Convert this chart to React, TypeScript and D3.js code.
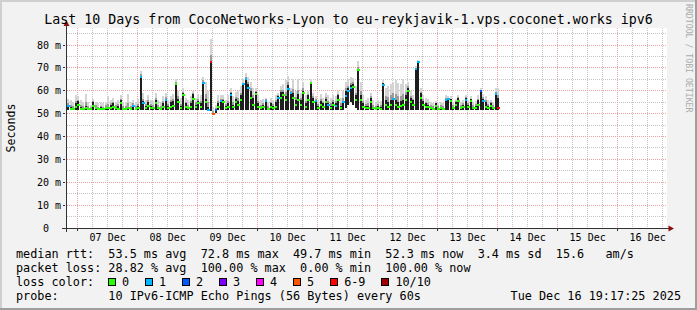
import React from 'react';
import * as d3 from 'd3';

const TITLE = 'Last 10 Days from CocoNetworks-Lyon to eu-reykjavik-1.vps.coconet.works ipv6';
const Y_LABEL = 'Seconds';
const WATERMARK = 'RRDTOOL / TOBI OETIKER';

const Y_TICKS = [0, 10, 20, 30, 40, 50, 60, 70, 80];
const Y_TICK_LABELS = ['0  ', '10 m', '20 m', '30 m', '40 m', '50 m', '60 m', '70 m', '80 m'];
const Y_MAX = 87.45;

const X_START = new Date(2025, 11, 6, 19, 44);
const X_END = new Date(2025, 11, 16, 19, 44);
const DAY_LABELS = ['07 Dec', '08 Dec', '09 Dec', '10 Dec', '11 Dec', '12 Dec', '13 Dec', '14 Dec', '15 Dec', '16 Dec'];
const DAY_LABEL_DATES = [7, 8, 9, 10, 11, 12, 13, 14, 15, 16].map((d) => new Date(2025, 11, d, 12, 0));

const DATA_START = new Date(2025, 11, 6, 19, 44);
const STEP_MS = 3600 * 1000;

// median rtt (ms) per hour
const median = [
  53.4, 52.2, 52.2, 53, 54, 52.2, 52.2, 52.5, 52, 52, 53.5, 52.3, 52, 52, 52, 52.5, 52.3, 52.5, 53, 52.3,
  52.2, 54.5, 52.2, 52, 52.3, 52, 53.5, 52, 52.3, 66, 54.5, 52.3, 53.5, 52.5, 52.3, 54.5, 52.3, 52, 53, 56,
  52.5, 53, 53.5, 63, 55, 52.5, 58, 53, 52.3, 53, 56.5, 53, 54.5, 53, 63.5, 55, 51.6, 72.8, 49.7, 51.5,
  53, 55.5, 55, 52.5, 53, 58, 53, 55, 54, 56, 62.8, 65, 61, 57, 54, 58.5, 53, 52.3, 53, 55.5,
  52, 53, 52.5, 53, 57, 57, 58, 56, 60.6, 59, 57, 54, 56, 54, 59, 53, 56, 63.5, 55, 55.5,
  52.3, 54, 53, 55, 54, 52.5, 54, 53.4, 56, 52.5, 55, 57.8, 60, 61.3, 61.8, 56, 69, 56, 53, 52.3,
  52.5, 55, 52.3, 52, 52.5, 52.2, 62.5, 54, 53, 54, 56.5, 54, 53, 53.5, 54, 56, 60, 55, 54, 69.4,
  72.5, 57, 54, 53, 53, 52.3, 52.2, 53.5, 52.2, 52.3, 52.2, 56, 56.5, 55.5, 52.3, 54, 55.5, 52.3, 53, 56,
  53, 55.5, 52.3, 52.5, 54, 60, 55.5, 53, 52.3, 53.5, 52.3, 58.6, 52.3,
];
// upper edge of the dense (dark) smoke
const darkTop = [
  54, 52.8, 52.6, 54.5, 55.5, 52.8, 52.6, 53.5, 52.6, 52.5, 55, 53, 52.5, 52.8, 52.5, 53, 53, 54, 54.5, 53,
  53.2, 56, 52.6, 52.6, 53, 52.6, 54, 52.6, 53.5, 66.5, 55.5, 53.2, 55, 53.2, 52.8, 56, 52.8, 52.5, 54.5, 56.5,
  53.2, 55, 55.5, 63.5, 56.5, 53.2, 59, 54.5, 53, 54.5, 58.5, 54, 55.5, 54.5, 64, 56.5, 53, 72.8, 50.5, 52,
  54.5, 56, 56, 53.2, 54.5, 59, 54, 56.5, 55.5, 58, 63, 65.5, 63, 60, 57, 59.5, 54.5, 53, 54, 56,
  52.6, 54.5, 53.5, 55, 57.5, 59.5, 59.5, 57.5, 62.5, 59.5, 59, 56, 58.5, 56, 60, 54.5, 58, 63.5, 57, 56,
  53.5, 55.5, 54.5, 56.5, 54.5, 53.5, 55, 54.5, 58, 53.5, 55.5, 60, 61, 62.5, 63, 58, 69.2, 58, 54.5, 53.2,
  53.5, 57, 53, 52.6, 53.5, 52.8, 63.2, 56, 55, 56, 57, 56, 55, 55.5, 56, 58, 61, 57, 56, 69.5,
  73, 59, 55.5, 54.5, 54, 53, 52.6, 54.5, 52.6, 53, 52.6, 56.5, 56.5, 56.2, 53, 55, 57, 53, 54, 57,
  54, 56.2, 53, 53.5, 56, 60.1, 56.5, 55, 53.5, 54.5, 53, 58.6, 57,
];
// highest ping of the hour
const smokeTop = [
  56.5, 56, 55, 58, 57.5, 56, 55, 58.5, 55, 54, 56.5, 55, 54.5, 55, 54.5, 55, 57.5, 56, 57, 55,
  56, 58, 55, 55, 58.5, 55, 56, 55, 56.5, 68.6, 59, 56, 58, 56, 55.5, 59, 56, 55, 57.5, 59,
  56, 57.5, 58.5, 65, 60, 57, 61, 57, 56, 57.5, 60, 57, 58.5, 58, 66, 64, 60, 82.5, 53, 54,
  58, 58, 58, 56, 58, 61, 57.5, 59.5, 60, 62, 65, 67.7, 66, 64, 61, 61, 58, 56, 56.5, 57,
  55, 57, 56, 58, 59, 62, 63, 64.5, 66.5, 61, 65, 60, 65, 59, 64, 58, 60, 65, 59, 57.5,
  56, 58.5, 57, 59, 58, 57, 58, 57.5, 60, 57, 60, 64, 65, 66, 65.5, 62, 73, 64, 58, 56,
  57, 59, 56, 55, 56, 55.5, 64.5, 61, 62, 63, 64, 64.5, 63.5, 63, 65, 63, 64, 60, 58, 71,
  73.5, 61, 58, 57, 56.5, 55, 54.5, 55.5, 54.5, 55, 54.5, 58, 57.5, 57.5, 55, 56.5, 58, 55, 56, 58,
  56, 57.5, 55, 55.5, 58, 61, 58.5, 57.5, 56, 56, 55, 61.4, 61,
];
// lowest ping of the hour
const smokeLow = [
  51.8, 51.8, 51.8, 51.8, 51.8, 51.8, 51.8, 51.8, 51.8, 51.8, 51.8, 51.8, 51.8, 51.8, 51.8, 51.8, 51.8, 51.8, 51.8, 51.8,
  51.8, 51.8, 51.8, 51.8, 51.8, 51.8, 51.8, 51.8, 51.8, 51.8, 51.8, 51.8, 51.8, 51.8, 51.8, 51.8, 51.8, 51.8, 51.8, 51.8,
  51.8, 51.8, 51.8, 51.8, 51.8, 51.8, 51.8, 51.8, 51.8, 51.8, 51.8, 51.8, 51.8, 51.8, 51.8, 51.8, 51.2, 51.2, 49.3, 50.5,
  51.8, 51.8, 51.8, 51.8, 51.8, 51.8, 51.8, 51.8, 51.8, 51.8, 51.8, 51.8, 51.8, 51.8, 51.8, 51.8, 51.8, 51.8, 51.8, 51.8,
  51.8, 51.8, 51.8, 51.8, 51.8, 51.8, 51.8, 51.8, 51.8, 51.8, 51.8, 51.8, 51.8, 51.8, 51.8, 51.8, 51.8, 51.8, 51.8, 51.8,
  51.8, 51.8, 51.8, 51.8, 51.8, 51.8, 51.8, 51.8, 51.8, 51.8, 51.8, 52.5, 54, 55, 54, 52.5, 51.8, 51.8, 51.8, 51.8,
  51.8, 51.8, 51.8, 51.8, 51.8, 51.8, 51.8, 51.8, 51.8, 51.8, 51.8, 51.8, 51.8, 51.8, 51.8, 51.8, 51.8, 51.8, 51.8, 51.8,
  51.8, 51.8, 51.8, 51.8, 51.8, 51.8, 51.8, 51.8, 51.8, 51.8, 51.8, 51.8, 51.8, 51.8, 51.8, 51.8, 51.8, 51.8, 51.8, 51.8,
  51.8, 51.8, 51.8, 51.8, 51.8, 51.8, 51.8, 51.8, 51.8, 51.8, 51.8, 51.8, 51.8,
];
// lost pings (of 10) per hour
const loss = [
  1, 0, 0, 0, 0, 0, 0, 0, 0, 0, 0, 0, 0, 0, 0, 0, 0, 0, 0, 0,
  0, 0, 0, 0, 0, 0, 1, 0, 0, 1, 1, 0, 0, 0, 0, 0, 0, 0, 0, 1,
  0, 0, 0, 0, 0, 0, 0, 0, 0, 0, 0, 0, 0, 0, 1, 0, 1, 7, 5, 2,
  0, 1, 0, 0, 0, 1, 0, 0, 0, 0, 1, 1, 1, 0, 0, 0, 0, 0, 0, 1,
  0, 0, 0, 0, 1, 0, 0, 0, 1, 1, 0, 0, 0, 0, 0, 0, 0, 0, 0, 1,
  0, 0, 0, 0, 1, 0, 0, 1, 0, 0, 1, 1, 1, 1, 0, 0, 0, 0, 0, 0,
  0, 0, 0, 0, 0, 0, 1, 0, 0, 0, 1, 0, 0, 0, 0, 0, 0, 0, 0, 1,
  1, 0, 0, 0, 0, 0, 0, 0, 0, 0, 0, 1, 1, 0, 0, 0, 0, 0, 0, 1,
  0, 0, 0, 0, 0, 2, 1, 0, 0, 0, 0, 1, 7,
];

const LOSS_LABELS = ['0', '1', '2', '3', '4', '5', '6-9', '10/10'];
const LOSS_COLORS = ['#26ff00', '#00b8ff', '#0059ff', '#7e00ff', '#ff00ff', '#ff5500', '#ff0000', '#a10000'];
const lossColor = (n: number) => (n >= 10 ? LOSS_COLORS[7] : n >= 6 ? LOSS_COLORS[6] : LOSS_COLORS[n]);

const LEGEND_LINES = [
  'median rtt:  53.5 ms avg  72.8 ms max  49.7 ms min  52.3 ms now  3.4 ms sd  15.6   am/s',
  'packet loss: 28.82 % avg  100.00 % max  0.00 % min  100.00 % now',
  'loss color:',
  'probe:       10 IPv6-ICMP Echo Pings (56 Bytes) every 60s',
];
const TIMESTAMP = 'Tue Dec 16 19:17:25 2025';

const W = 697;
const H = 310;
const PL = 67;
const PR = 667;
const PT = 28;
const PB = 228;
const MONO = "'DejaVu Sans Mono', monospace";
const CW = 7.12;

export default function App() {
  const x = d3.scaleTime().domain([X_START, X_END]).range([PL, PR]);
  const y = d3.scaleLinear().domain([0, Y_MAX]).range([PB, PT]);
  const px = (v: number) => Math.floor(v) + 0.5;

  const majorDays = d3.timeDay.range(X_START, X_END);
  const minorHours = d3.timeHour.every(6)!.range(X_START, X_END).filter((d) => d.getHours() !== 0);
  const minorY = d3.range(5, Y_MAX, 10);
  const majorY = Y_TICKS.filter((v) => v > 0);

  const samples = median.map((m, i) => {
    const t0 = new Date(DATA_START.getTime() + i * STEP_MS);
    const t1 = new Date(DATA_START.getTime() + (i + 1) * STEP_MS);
    return { i, m, x0: x(t0), x1: x(t1), lo: smokeLow[i], dk: darkTop[i], hi: smokeTop[i], loss: loss[i] };
  });

  let cursor = 108;
  const lossItems = LOSS_LABELS.map((lab, k) => {
    const bx = cursor;
    cursor += (lab.length + 4.2) * CW;
    return { lab, bx, color: LOSS_COLORS[k] };
  });

  const legendY = [258.3, 272.3, 286.3, 300.3];

  return (
    <svg
      width={W}
      height={H}
      viewBox={`0 0 ${W} ${H}`}
      style={{ position: 'absolute', left: 0, top: 0, display: 'block' }}
      fontFamily={MONO}
    >
      <rect x={0} y={0} width={W} height={H} fill="#f2f2f2" />
      <rect x={0} y={0} width={W} height={2} fill="#cfcfcf" />
      <rect x={0} y={0} width={2} height={H} fill="#cfcfcf" />
      <rect x={0} y={H - 2} width={W} height={2} fill="#9e9e9e" />
      <rect x={W - 2} y={0} width={2} height={H} fill="#9e9e9e" />

      <rect x={PL} y={PT} width={PR - PL} height={PB - PT} fill="#ffffff" />

      <g stroke="#c4c4c4" strokeWidth={1} strokeDasharray="1,1" shapeRendering="crispEdges">
        {minorHours.map((d, k) => (
          <line key={'mv' + k} x1={px(x(d))} x2={px(x(d))} y1={PT} y2={PB} />
        ))}
        {minorY.map((v, k) => (
          <line key={'mh' + k} x1={PL} x2={PR} y1={px(y(v))} y2={px(y(v))} />
        ))}
      </g>
      <g stroke="#eda3a3" strokeWidth={1} strokeDasharray="1,1" shapeRendering="crispEdges">
        {majorDays.map((d, k) => (
          <line key={'Mv' + k} x1={px(x(d))} x2={px(x(d))} y1={PT} y2={PB} />
        ))}
        {majorY.map((v, k) => (
          <line key={'Mh' + k} x1={PL} x2={PR} y1={px(y(v))} y2={px(y(v))} />
        ))}
      </g>

      <g shapeRendering="crispEdges">
        {samples.map((s) => (
          <rect key={'l' + s.i} x={s.x0} width={(s.x1 - s.x0) * 0.85} y={y(s.hi)} height={y(s.lo) - y(s.hi)} fill="#d4d4d4" />
        ))}
        {samples.map((s) => {
          const mid = s.dk + (s.hi - s.dk) * 0.3;
          return (
            <rect key={'g' + s.i} x={s.x0} width={(s.x1 - s.x0) * 0.8} y={y(mid)} height={y(s.lo) - y(mid)} fill="#9a9a9a" />
          );
        })}
        {samples.map((s) => (
          <rect key={'d' + s.i} x={s.x0} width={(s.x1 - s.x0) * 0.8} y={y(s.dk)} height={y(s.lo) - y(s.dk)} fill="#1e1e1e" />
        ))}
        {samples.map((s) => (
          <rect key={'m' + s.i} x={s.x0} width={s.x1 - s.x0} y={y(s.m) - 1} height={2} fill={lossColor(s.loss)} />
        ))}
      </g>

      <g stroke="#333333" strokeWidth={1} shapeRendering="crispEdges">
        <line x1={62} x2={670} y1={px(PB)} y2={px(PB)} />
        <line x1={px(PL - 1)} x2={px(PL - 1)} y1={232} y2={24} />
        {majorDays.map((d, k) => (
          <line key={'tx' + k} x1={px(x(d))} x2={px(x(d))} y1={PB + 1} y2={PB + 3} />
        ))}
        {majorY.map((v, k) => (
          <line key={'ty' + k} x1={PL - 4} x2={PL - 2} y1={px(y(v))} y2={px(y(v))} />
        ))}
      </g>
      <path d={`M${PL - 0.5},20.5 L${PL - 3.5},26 L${PL + 2.5},26 Z`} fill="#8b1010" />
      <path d={`M674,${PB + 0.5} L668.5,${PB - 2.5} L668.5,${PB + 3.5} Z`} fill="#8b1010" />

      <g fontSize={10} fill="#000" textAnchor="end">
        {Y_TICKS.map((v, k) => (
          <text key={'yl' + k} x={61} y={px(y(v)) + 3.5} style={{ whiteSpace: 'pre' }}>
            {Y_TICK_LABELS[k]}
          </text>
        ))}
      </g>
      <g fontSize={10} fill="#000" textAnchor="middle">
        {DAY_LABELS.map((lab, k) => (
          <text key={'xl' + k} x={x(DAY_LABEL_DATES[k])} y={240.7}>
            {lab}
          </text>
        ))}
      </g>

      <text x={W / 2} y={23.5} fontSize={13.3} textAnchor="middle" fill="#000">
        {TITLE}
      </text>
      <text transform="translate(14.5,128) rotate(-90)" fontSize={11.6} textAnchor="middle" fill="#000">
        {Y_LABEL}
      </text>
      <text transform="translate(686,4) rotate(90)" fontSize={8.2} fill="#ababab">
        {WATERMARK}
      </text>

      <g fontSize={11.8} fill="#000">
        {LEGEND_LINES.map((line, k) => (
          <text key={'lg' + k} x={16} y={legendY[k]} style={{ whiteSpace: 'pre' }}>
            {line}
          </text>
        ))}
        {lossItems.map((it, k) => (
          <g key={'li' + k}>
            <rect x={Math.round(it.bx) + 0.5} y={278.5} width={7} height={7} fill={it.color} stroke="#000" strokeWidth={1} />
            <text x={it.bx + 14} y={legendY[2]}>
              {it.lab}
            </text>
          </g>
        ))}
        <text x={681} y={legendY[3]} textAnchor="end" style={{ whiteSpace: 'pre' }}>
          {TIMESTAMP}
        </text>
      </g>
    </svg>
  );
}
